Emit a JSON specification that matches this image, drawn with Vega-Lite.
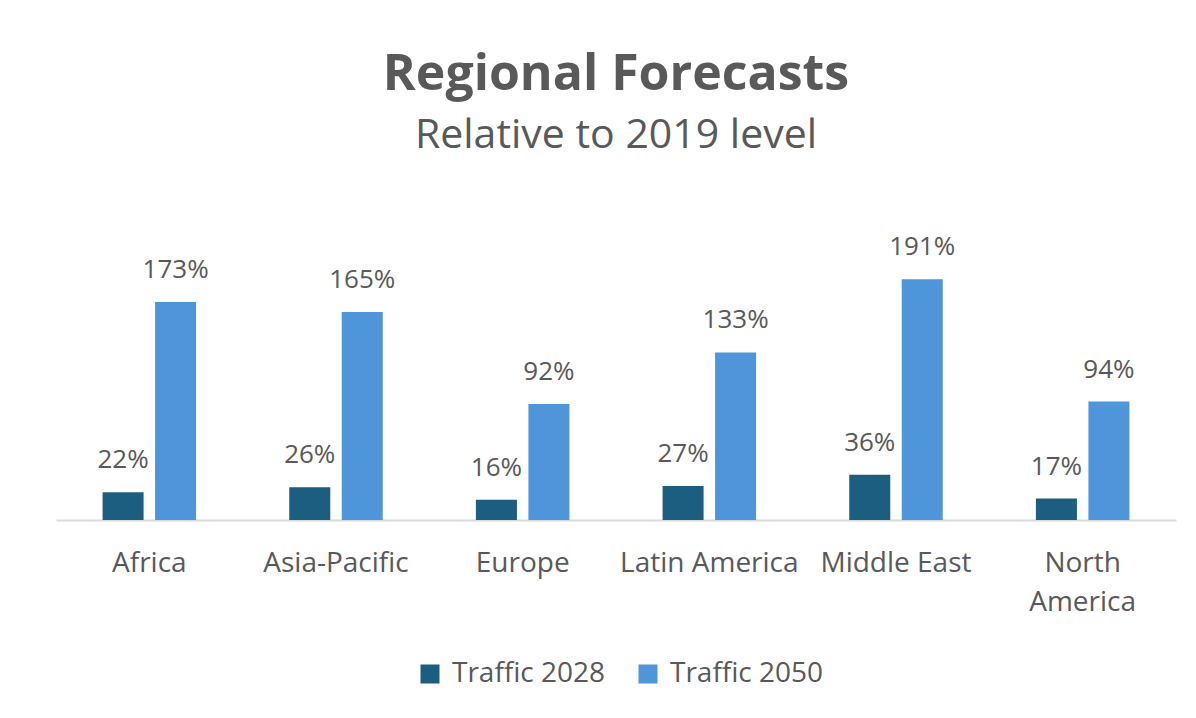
{
  "$schema": "https://vega.github.io/schema/vega-lite/v6.json",
  "width": 1120,
  "height": 252,
  "autosize": {"type": "none"},
  "padding": {"left": 56, "top": 268, "right": 20, "bottom": 198},
  "background": "white",
  "title": {
    "text": "Regional Forecasts",
    "subtitle": "Relative to 2019 level",
    "anchor": "middle",
    "frame": "group",
    "font": "Open Sans",
    "fontSize": 50,
    "fontWeight": "bold",
    "color": "#595959",
    "subtitleFont": "Open Sans",
    "subtitleFontSize": 41,
    "subtitleColor": "#595959",
    "subtitlePadding": 16,
    "offset": 78
  },
  "data": {
    "values": [
      {"region": "Africa", "series": "Traffic 2028", "value": 0.22},
      {"region": "Africa", "series": "Traffic 2050", "value": 1.73},
      {"region": "Asia-Pacific", "series": "Traffic 2028", "value": 0.26},
      {"region": "Asia-Pacific", "series": "Traffic 2050", "value": 1.65},
      {"region": "Europe", "series": "Traffic 2028", "value": 0.16},
      {"region": "Europe", "series": "Traffic 2050", "value": 0.92},
      {"region": "Latin America", "series": "Traffic 2028", "value": 0.27},
      {"region": "Latin America", "series": "Traffic 2050", "value": 1.33},
      {"region": "Middle East", "series": "Traffic 2028", "value": 0.36},
      {"region": "Middle East", "series": "Traffic 2050", "value": 1.91},
      {"region": "North America", "series": "Traffic 2028", "value": 0.17},
      {"region": "North America", "series": "Traffic 2050", "value": 0.94}
    ]
  },
  "encoding": {
    "x": {
      "field": "region",
      "type": "nominal",
      "sort": null,
      "scale": {"paddingInner": 0, "paddingOuter": 0},
      "axis": {
        "title": null,
        "labelAngle": 0,
        "ticks": false,
        "domain": true,
        "domainColor": "#D9D9D9",
        "domainWidth": 2,
        "labelFont": "Open Sans",
        "labelFontSize": 28,
        "labelColor": "#595959",
        "labelPadding": 29,
        "labelBaseline": "top",
        "labelLineHeight": 39,
        "labelOverlap": false,
        "labelFlush": false,
        "labelLimit": 0,
        "labelExpr": "datum.label == 'North America' ? ['North', 'America'] : datum.label"
      }
    },
    "xOffset": {
      "field": "series",
      "type": "nominal",
      "sort": ["Traffic 2028", "Traffic 2050"],
      "scale": {"paddingInner": 0.219, "paddingOuter": 0.887}
    },
    "y": {
      "field": "value",
      "type": "quantitative",
      "scale": {"domain": [0, 2]},
      "axis": null
    }
  },
  "layer": [
    {
      "mark": {"type": "bar"},
      "encoding": {
        "color": {
          "field": "series",
          "type": "nominal",
          "scale": {"domain": ["Traffic 2028", "Traffic 2050"], "range": ["#1B5E80", "#4F95D9"]},
          "legend": {
            "orient": "none",
            "legendX": 360,
            "legendY": 392,
            "direction": "horizontal",
            "title": null,
            "symbolType": "square",
            "symbolSize": 361,
            "symbolStrokeWidth": 0,
            "labelFont": "Open Sans",
            "labelFontSize": 28,
            "labelColor": "#595959",
            "labelOffset": 8,
            "columnPadding": 28
          }
        }
      }
    },
    {
      "mark": {"type": "text", "dy": -24, "baseline": "alphabetic", "font": "Open Sans", "fontSize": 26, "color": "#595959"},
      "encoding": {
        "text": {"field": "value", "type": "quantitative", "format": ".0%"}
      }
    }
  ],
  "config": {"view": {"stroke": null}}
}
